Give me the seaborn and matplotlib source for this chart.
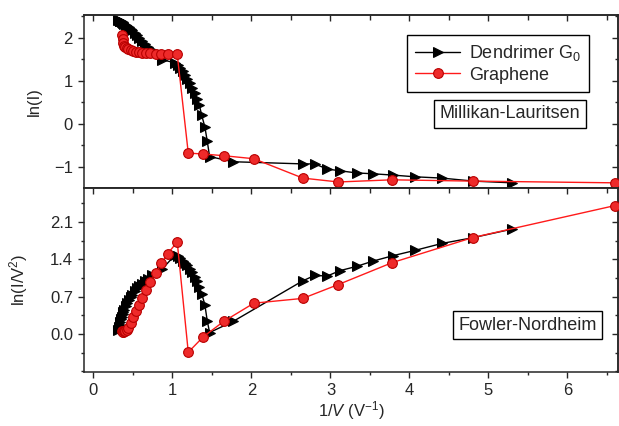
import numpy as np
import pandas as pd
import seaborn as sns
import matplotlib.pyplot as plt
from matplotlib.ticker import MultipleLocator, FixedLocator, FormatStrFormatter

# Dendrimer G0 (shared 1/V values for both panels)
dend_x = [0.31, 0.32, 0.33, 0.34, 0.35, 0.36, 0.37, 0.38, 0.39, 0.41, 0.43, 0.45,
          0.47, 0.49, 0.52, 0.55, 0.58, 0.61, 0.65, 0.69, 0.74, 0.87, 1.03,
          1.07, 1.10, 1.13, 1.16, 1.19, 1.22, 1.25, 1.28, 1.31, 1.34, 1.37, 1.41, 1.44, 1.47,
          1.77, 2.65, 2.80, 2.96, 3.12, 3.33, 3.54, 3.79, 4.07, 4.41, 4.81, 5.30]
dend_ml = [2.42, 2.41, 2.40, 2.39, 2.38, 2.37, 2.36, 2.34, 2.33, 2.30, 2.27, 2.24,
           2.21, 2.17, 2.12, 2.06, 1.99, 1.92, 1.85, 1.78, 1.71, 1.49, 1.42,
           1.36, 1.30, 1.22, 1.13, 1.04, 0.94, 0.84, 0.72, 0.58, 0.44, 0.20, -0.07, -0.40, -0.76,
           -0.88, -0.93, -0.93, -1.05, -1.09, -1.14, -1.16, -1.19, -1.23, -1.26, -1.33, -1.37]
dend_fn = [0.08, 0.13, 0.18, 0.23, 0.28, 0.33, 0.37, 0.41, 0.45, 0.52, 0.58, 0.64,
           0.70, 0.74, 0.81, 0.86, 0.90, 0.94, 0.99, 1.04, 1.11, 1.22, 1.48,
           1.46, 1.42, 1.38, 1.34, 1.29, 1.23, 1.16, 1.08, 0.99, 0.88, 0.76, 0.55, 0.25, 0.03,
           0.24, 1.00, 1.10, 1.09, 1.19, 1.27, 1.37, 1.47, 1.57, 1.70, 1.81, 1.97]

# Graphene
gra_x = [0.36, 0.37, 0.38, 0.39, 0.40, 0.42, 0.44, 0.47, 0.50, 0.54, 0.57, 0.61, 0.66,
         0.72, 0.79, 0.86, 0.94, 1.06, 1.20, 1.39, 1.65, 2.03, 2.65, 3.10, 3.78, 4.80, 6.60]
gra_ml = [2.07, 1.97, 1.88, 1.82, 1.78, 1.76, 1.75, 1.72, 1.70, 1.67, 1.66, 1.65, 1.65,
          1.64, 1.63, 1.63, 1.62, 1.62, -0.68, -0.70, -0.74, -0.81, -1.26, -1.35, -1.30, -1.33, -1.37]
gra_fn = [0.05, 0.04, 0.04, 0.05, 0.06, 0.08, 0.12, 0.21, 0.32, 0.44, 0.55, 0.68, 0.82,
          0.98, 1.14, 1.33, 1.51, 1.73, -0.34, -0.05, 0.24, 0.58, 0.67, 0.93, 1.34, 1.81, 2.41]

fn_ticks = [0.0, 0.7, 1.4, 2.1]

dend = pd.DataFrame({"x": dend_x, "ml": dend_ml, "fn": dend_fn})
gra = pd.DataFrame({"x": gra_x, "ml": gra_ml, "fn": gra_fn})

sns.set_style("ticks")
plt.rcParams['font.family'] = ['Liberation Sans', 'DejaVu Sans']
plt.rcParams['mathtext.fontset'] = 'custom'
plt.rcParams['mathtext.rm'] = 'Liberation Sans'
plt.rcParams['mathtext.it'] = 'Liberation Sans:italic'
plt.rcParams['axes.linewidth'] = 1.1

fs = 12
fig = plt.figure(figsize=(6.19, 4.26), dpi=100)
ax1 = fig.add_axes([0.1357, 0.5587, 0.8627, 0.4061])
ax2 = fig.add_axes([0.1357, 0.1268, 0.8627, 0.4319], sharex=ax1)

black_kw = dict(color="black", marker=">", markersize=7.5, markeredgecolor="black",
                linewidth=1.0, sort=False, estimator=None, zorder=2)
red_kw = dict(color="#ff1a1a", marker="o", markersize=7, markerfacecolor="#ee2a2a",
              markeredgecolor="#b80000", markeredgewidth=0.8, linewidth=1.0,
              sort=False, estimator=None, zorder=3)

sns.lineplot(data=dend, x="x", y="ml", ax=ax1, label="Dendrimer G$_0$", **black_kw)
sns.lineplot(data=gra, x="x", y="ml", ax=ax1, label="Graphene", **red_kw)
sns.lineplot(data=dend, x="x", y="fn", ax=ax2, legend=False, **black_kw)
sns.lineplot(data=gra, x="x", y="fn", ax=ax2, legend=False, **red_kw)

ax1.set_xlim(-0.12, 6.64)
ax1.set_ylim(-1.49, 2.53)
ax2.set_ylim(-0.71, 2.74)

ax1.yaxis.set_major_locator(MultipleLocator(1))
ax1.yaxis.set_minor_locator(MultipleLocator(0.5))
ax2.yaxis.set_major_locator(FixedLocator(fn_ticks))
ax2.yaxis.set_minor_locator(MultipleLocator(0.35))
ax2.yaxis.set_major_formatter(FormatStrFormatter("%.1f"))

for ax in (ax1, ax2):
    ax.xaxis.set_major_locator(MultipleLocator(1))
    ax.xaxis.set_minor_locator(MultipleLocator(0.5))
    ax.tick_params(which="major", length=4.5, width=1, labelsize=fs, direction="out")
    ax.tick_params(which="minor", length=2.5, width=1, direction="out")
    right = ax.secondary_yaxis("right")
    right.yaxis.set_major_locator(ax.yaxis.get_major_locator())
    right.yaxis.set_minor_locator(ax.yaxis.get_minor_locator())
    right.tick_params(which="both", direction="in", labelright=False, width=1)
    right.tick_params(which="major", length=4.5)
    right.tick_params(which="minor", length=2.5)
    top = ax.secondary_xaxis("top")
    top.xaxis.set_major_locator(MultipleLocator(1))
    top.xaxis.set_minor_locator(MultipleLocator(0.5))
    top.tick_params(which="both", direction="in", labeltop=False, width=1)
    top.tick_params(which="major", length=4.5)
    top.tick_params(which="minor", length=3.5)

ax1.tick_params(axis="x", which="both", bottom=False, labelbottom=False)

ax1.set_xlabel("")
ax1.set_ylabel("ln(I)", fontsize=fs)
ax2.set_ylabel("ln(I/V$^2$)", fontsize=fs)
ax1.yaxis.set_label_coords(-0.079, 0.5)
ax2.yaxis.set_label_coords(-0.101, 0.5)
ax2.set_xlabel("$\\mathit{1/V}$ (V$^{-1}$)", fontsize=fs, labelpad=1)

leg = ax1.legend(loc="upper right", bbox_to_anchor=(0.946, 0.884), borderaxespad=0,
                 fancybox=False, edgecolor="black", framealpha=1, fontsize=13,
                 handlelength=2.5, handletextpad=0.5, labelspacing=0.2,
                 borderpad=0.45)
leg.get_frame().set_linewidth(1.0)

box = dict(boxstyle="square,pad=0.3", facecolor="white", edgecolor="black", linewidth=1.0)
ax1.text(0.798, 0.428, "Millikan-Lauritsen", transform=ax1.transAxes, ha="center",
         va="center", fontsize=13, bbox=box)
ax2.text(0.831, 0.255, "Fowler-Nordheim", transform=ax2.transAxes, ha="center",
         va="center", fontsize=13, bbox=box)

fig.savefig("out.png", dpi=100)
plt.close(fig)
